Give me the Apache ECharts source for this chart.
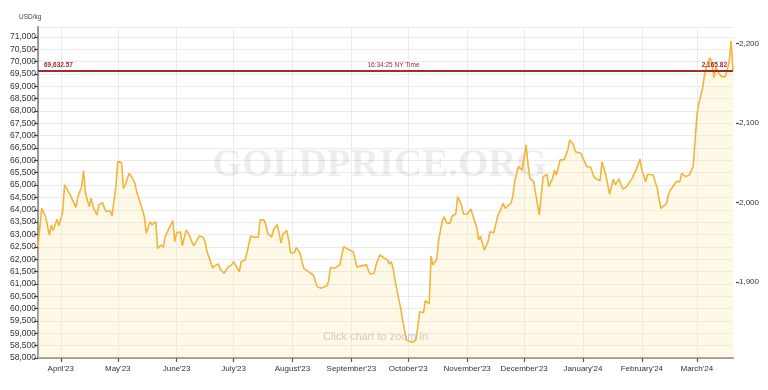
<!DOCTYPE html>
<html><head><meta charset="utf-8">
<script src="https://cdn.jsdelivr.net/npm/echarts@6/dist/echarts.min.js"></script>
<style>html,body{margin:0;padding:0;background:#fff}#chart{width:768px;height:390px}</style>
</head><body><div id="chart"></div>
<script>
const dates = [
'2023-03-20','2023-03-22','2023-03-24','2023-03-26','2023-03-27','2023-03-28','2023-03-30','2023-03-31',
'2023-04-02','2023-04-03','2023-04-04','2023-04-06','2023-04-07','2023-04-09','2023-04-10','2023-04-12','2023-04-13','2023-04-14','2023-04-16','2023-04-17','2023-04-18','2023-04-20','2023-04-21','2023-04-23','2023-04-24','2023-04-25','2023-04-27','2023-04-28','2023-04-30',
'2023-05-01','2023-05-03','2023-05-04','2023-05-05','2023-05-07','2023-05-08','2023-05-10','2023-05-11','2023-05-12','2023-05-14','2023-05-15','2023-05-16','2023-05-18','2023-05-19','2023-05-21','2023-05-22','2023-05-24','2023-05-25','2023-05-26','2023-05-28','2023-05-30','2023-05-31',
'2023-06-01','2023-06-03','2023-06-04','2023-06-06','2023-06-07','2023-06-08','2023-06-10','2023-06-11','2023-06-13','2023-06-15','2023-06-16','2023-06-17','2023-06-18','2023-06-20','2023-06-21','2023-06-23','2023-06-24','2023-06-26','2023-06-27','2023-06-28','2023-06-30',
'2023-07-01','2023-07-03','2023-07-04','2023-07-05','2023-07-07','2023-07-08','2023-07-10','2023-07-11','2023-07-12','2023-07-14','2023-07-15','2023-07-17','2023-07-18','2023-07-19','2023-07-21','2023-07-22','2023-07-23','2023-07-24','2023-07-26','2023-07-27','2023-07-29','2023-07-30','2023-07-31',
'2023-08-02','2023-08-03','2023-08-05','2023-08-06','2023-08-07','2023-08-09','2023-08-10','2023-08-12','2023-08-13','2023-08-14','2023-08-16','2023-08-17','2023-08-19','2023-08-20','2023-08-21','2023-08-23','2023-08-24','2023-08-26','2023-08-27','2023-08-28','2023-08-30','2023-08-31',
'2023-09-02','2023-09-03','2023-09-04','2023-09-06','2023-09-07','2023-09-09','2023-09-10','2023-09-11','2023-09-13','2023-09-14','2023-09-16','2023-09-17','2023-09-18','2023-09-20','2023-09-21','2023-09-22','2023-09-23','2023-09-24','2023-09-26','2023-09-27','2023-09-28','2023-09-30',
'2023-10-01','2023-10-03','2023-10-04','2023-10-05','2023-10-06','2023-10-07','2023-10-09','2023-10-10','2023-10-11','2023-10-12','2023-10-13','2023-10-14','2023-10-16','2023-10-17','2023-10-19','2023-10-20','2023-10-21','2023-10-23','2023-10-24','2023-10-26','2023-10-27','2023-10-29','2023-10-30',
'2023-11-01','2023-11-02','2023-11-03','2023-11-05','2023-11-06','2023-11-07','2023-11-08','2023-11-09','2023-11-10','2023-11-12','2023-11-13','2023-11-15','2023-11-16','2023-11-17','2023-11-18','2023-11-20','2023-11-21','2023-11-22','2023-11-24','2023-11-25','2023-11-26','2023-11-28','2023-11-29','2023-11-30',
'2023-12-02','2023-12-03','2023-12-04','2023-12-06','2023-12-07','2023-12-09','2023-12-10','2023-12-11','2023-12-13','2023-12-14','2023-12-16','2023-12-17','2023-12-18','2023-12-20','2023-12-21','2023-12-22','2023-12-24','2023-12-25','2023-12-27','2023-12-28','2023-12-29','2023-12-31',
'2024-01-01','2024-01-03','2024-01-04','2024-01-05','2024-01-07','2024-01-08','2024-01-10','2024-01-11','2024-01-12','2024-01-13','2024-01-15','2024-01-16','2024-01-17','2024-01-18','2024-01-20','2024-01-21','2024-01-22','2024-01-24','2024-01-25','2024-01-27','2024-01-28','2024-01-29','2024-01-31',
'2024-02-01','2024-02-03','2024-02-04','2024-02-05','2024-02-07','2024-02-08','2024-02-09','2024-02-11','2024-02-12','2024-02-14','2024-02-15','2024-02-16','2024-02-18','2024-02-19','2024-02-21','2024-02-22','2024-02-24','2024-02-25','2024-02-26','2024-02-28','2024-02-29',
'2024-03-01','2024-03-02','2024-03-04','2024-03-05','2024-03-06','2024-03-07','2024-03-08','2024-03-09','2024-03-10','2024-03-11','2024-03-12','2024-03-14','2024-03-15','2024-03-16','2024-03-17','2024-03-18','2024-03-19','2024-03-20'
];
const usdPerKg = [
62540,64060,63720,62980,63390,63160,63620,63350,
63930,65010,64970,64600,64530,64100,64530,64940,65590,64670,64130,64470,64130,63790,64200,64290,64060,63930,63970,63750,64940,
65950,65910,64870,65010,65480,65370,65080,64730,64730,63990,63720,63050,63520,63390,63520,62440,62580,62480,62910,63250,63560,62710,
63070,63110,62540,63180,63070,63050,62540,62580,62940,62890,62710,62300,62100,61630,61730,61810,61590,61430,61400,61670,61770,
61900,61630,61490,61900,61970,62240,62940,62980,62890,62890,63590,63590,63390,63050,62890,63180,63290,63410,62650,63020,63160,62780,62260,
62260,62470,62240,61900,61630,61520,61520,61360,61130,60890,60820,60750,60920,61090,61670,61630,61560,61770,62170,62510,62410,62400,
62300,62000,61670,61730,61700,61770,61540,61400,61430,61770,62170,62130,62060,61970,61810,61900,61630,61160,60380,60010,59540,58730,
58660,58640,58600,58730,59270,59870,59830,60320,60280,60190,62130,61770,62000,62780,63590,63720,63480,63450,63750,63830,64530,64200,63830,
63830,63860,64030,63520,63320,62780,62940,62650,62370,62710,63110,63070,63390,63720,63700,64260,64060,64130,64260,64530,65140,65750,65710,65610,
66630,65880,65280,65140,65210,63790,63750,65340,65440,64940,65280,65610,65410,66020,66020,66020,66420,66830,66630,66350,66330,66290,
66090,65750,65750,65720,65300,65250,65170,65950,66020,65410,64630,64940,65250,65010,65250,65030,64840,64940,64900,65280,65480,65610,66060,
65610,65140,65440,65490,65410,65140,64900,64060,64090,64260,64630,64800,65010,65140,65140,65480,65340,65300,65410,65750,66760,
67840,68310,68920,69460,69800,70000,70160,69870,69350,69800,69590,69390,69460,69390,69350,70000,70830,69632.57
];
const monthTickDates = ['2023-04-01','2023-05-01','2023-06-01','2023-07-01','2023-08-01','2023-09-01','2023-10-01','2023-11-01','2023-12-01','2024-01-01','2024-02-01','2024-03-01'];
const monthTickLabels = ["April'23","May'23","June'23","July'23","August'23","September'23","October'23","November'23","December'23","January'24","February'24","March'24"];
const rightTickValues = [1900, 2000, 2100, 2200];
const currentPrice = 69632.57;
const currentTime = '16:34:25 NY Time';
const OZ_PER_KG = 32.1507466;
const yMin = 58000, yMax = 71400, yStep = 500;
const xStart = '2023-03-20', xEnd = '2024-03-20';

const parseDay = s => { const p = s.split('-').map(Number); return Date.UTC(p[0], p[1]-1, p[2]); };
const tickTimes = monthTickDates.map(parseDay);
const fmt = (v, d) => v.toLocaleString('en-US', {minimumFractionDigits: d, maximumFractionDigits: d});
const FONT = '"Liberation Sans", Arial, sans-serif';
const RED = '#9e2a2b';

const chart = echarts.init(document.getElementById('chart'), null, {renderer: 'canvas'});
chart.setOption({
  animation: false,
  title: {text: 'USD/kg', left: 14, top: 9, textStyle: {fontSize: 6.5, fontWeight: 'normal', color: '#444', fontFamily: FONT}},
  grid: {left: 38, right: 35, top: 27, bottom: 32},
  graphic: [
    {type: 'text', left: 212, top: 146, z: 1, silent: true,
     style: {text: 'GOLDPRICE.ORG', font: 'bold 39px "Liberation Serif", "DejaVu Serif", serif', fill: 'rgba(0,0,0,0.07)'}},
    {type: 'text', left: 323, top: 331, z: 1, silent: true,
     style: {text: 'Click chart to zoom in', font: '11px ' + FONT, fill: '#c4c4c4'}}
  ],
  xAxis: {
    type: 'value', min: parseDay(xStart), max: parseDay(xEnd),
    axisLine: {lineStyle: {color: '#9a9a9a', width: 2}},
    axisTick: {show: true, length: 4, lineStyle: {color: '#555', width: 1.2}, customValues: tickTimes},
    axisLabel: {customValues: tickTimes, fontSize: 8, color: '#333', fontFamily: FONT, margin: 7,
      formatter: v => { const i = tickTimes.indexOf(v); return i >= 0 ? monthTickLabels[i] : ''; }},
    splitLine: {show: true, lineStyle: {color: '#ececec', width: 1}}
  },
  yAxis: [
    {type: 'value', min: yMin, max: yMax, interval: yStep, position: 'left',
     axisLine: {show: true, lineStyle: {color: '#9a9a9a', width: 2}},
     axisTick: {show: true, length: 4, lineStyle: {color: '#444', width: 1.2}},
     axisLabel: {fontSize: 8.5, color: '#333', fontFamily: FONT, margin: 2, showMaxLabel: false, formatter: v => fmt(v, 0)},
     splitLine: {show: true, lineStyle: {color: '#ebebeb', width: 1}}},
    {type: 'value', min: yMin / OZ_PER_KG, max: yMax / OZ_PER_KG, position: 'right', offset: 3,
     axisLine: {show: false},
     axisTick: {show: true, length: 3, customValues: rightTickValues, lineStyle: {color: '#444', width: 1.2}},
     axisLabel: {customValues: rightTickValues, fontSize: 8, color: '#333', fontFamily: FONT, margin: 3, formatter: v => fmt(v, 0)},
     splitLine: {show: false}}
  ],
  series: [{
    type: 'line', yAxisIndex: 0, z: 2,
    data: dates.map((d, i) => [parseDay(d), usdPerKg[i]]),
    showSymbol: false, symbol: 'none',
    lineStyle: {color: '#f2b53c', width: 1.6},
    areaStyle: {color: 'rgba(252, 226, 160, 0.36)'},
    markLine: {
      silent: true, symbol: ['none', 'none'], animation: false,
      lineStyle: {color: RED, width: 1.5, type: 'solid'},
      label: {color: RED, fontSize: 6.5, fontFamily: FONT},
      data: [
        {yAxis: currentPrice, label: {position: 'insideStartTop', fontWeight: 'bold', distance: [6, 2], formatter: fmt(currentPrice, 2)}},
        {yAxis: currentPrice, label: {position: 'insideMiddleTop', distance: [0, 2], padding: [0, 0, 0, 16], formatter: currentTime}},
        {yAxis: currentPrice, label: {position: 'insideEndTop', fontWeight: 'bold', distance: [6, 2], formatter: fmt(currentPrice / OZ_PER_KG, 2)}}
      ]
    }
  }]
});
</script></body></html>
